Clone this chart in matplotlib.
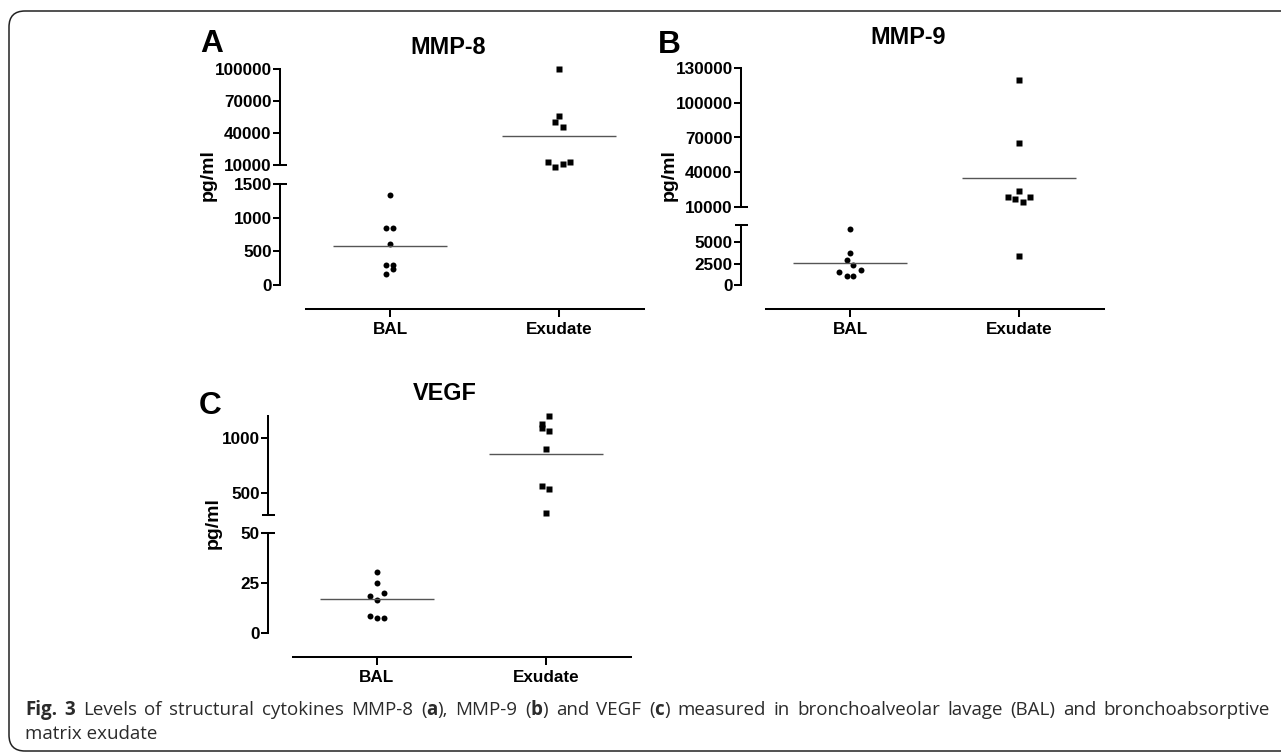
import numpy as np
import matplotlib
matplotlib.use('Agg')
import matplotlib.pyplot as plt
from matplotlib.patches import FancyBboxPatch
from matplotlib.lines import Line2D

W, H = 1281, 753
plt.rcParams['font.family'] = ['Liberation Sans', 'DejaVu Sans']
plt.rcParams['font.weight'] = 'bold'

categories = ['BAL', 'Exudate']

# values (pg/ml)
mmp8_bal = [1331, 849, 849, 616, 298, 298, 233, 159]
mmp8_exudate = [100000, 56250, 50300, 45300, 12800, 8400, 10900, 13100]
mmp9_bal = [6520, 3710, 2890, 2300, 1560, 1800, 1020, 1090]
mmp9_exudate = [120000, 65000, 24000, 18900, 16600, 14600, 18400, 3440]
vegf_bal = [30.5, 25, 20.2, 18.7, 16.7, 8.7, 7.3, 7.5]
vegf_exudate = [1203, 1127, 1091, 1067, 903, 561, 537, 315]

mmp8_ticks_hi = [10000, 40000, 70000, 100000]
mmp8_ticks_lo = [0, 500, 1000, 1500]
mmp9_ticks_hi = [10000, 40000, 70000, 100000, 130000]
mmp9_ticks_lo = [0, 2500, 5000]
vegf_ticks_hi = [500, 1000]
vegf_ticks_lo = [0, 25, 50]

# sideways spread of the points inside a column, px
mmp8_bal_dx = [0, -4, 3, 0, -4, 3, 3, -4]
mmp8_exu_dx = [0, 0, -4, 4, -11, -4, 4, 11]
mmp9_bal_dx = [0, 0, -3, 3, -11, 11, -3, 3]
mmp9_exu_dx = [0, 0, 0, -11, -4, 4, 11, 0]
vegf_bal_dx = [0, 0, 7, -7, 0, -7, 0, 7]
vegf_exu_dx = [3, -4, -4, 3, 0, -4, 3, 0]

CAT_PX = 169  # px between the two columns
LW = 1.45
TICK_FS = 12.3


def px_axes(fig, left, top, right, bottom):
    return fig.add_axes([left / W, 1 - bottom / H, (right - left) / W, (bottom - top) / H])


def hline_px(fig, x0, x1, y, lw=LW):
    fig.add_artist(Line2D([x0 / W, x1 / W], [1 - y / H, 1 - y / H],
                          transform=fig.transFigure, color='black', lw=lw))


def style_y(ax, ticks, lo, hi):
    ax.spines[['top', 'right']].set_visible(False)
    ax.spines['left'].set_linewidth(LW)
    ax.spines['left'].set_bounds(lo, hi)
    ax.set_yticks(ticks)
    ax.set_yticklabels([str(t) for t in ticks])
    ax.tick_params(axis='y', length=5, width=LW, pad=1, labelsize=TICK_FS)
    ax.patch.set_alpha(0)


def panel(fig, bal, exu, bal_dx, exu_dx, spine_x, cat1_px, right_px,
          up_top, up_bot, up_lo, up_hi, up_ticks,
          lo_top, zero_px, lo_hi, lo_ticks, axis_px):
    xlim = (1 - (cat1_px - spine_x) / CAT_PX, 1 + (right_px - cat1_px) / CAT_PX)

    up = px_axes(fig, spine_x, up_top, right_px, up_bot)
    up.set_xlim(*xlim)
    up.set_ylim(up_lo, up_hi)
    style_y(up, up_ticks, up_lo, up_hi)
    up.spines['bottom'].set_visible(False)
    up.set_xticks([])

    low = px_axes(fig, spine_x, lo_top, right_px, axis_px)
    low.set_xlim(*xlim)
    low.set_ylim(-(axis_px - zero_px) * lo_hi / (zero_px - lo_top), lo_hi)
    style_y(low, lo_ticks, 0, lo_hi)
    low.spines['bottom'].set_linewidth(LW)
    low.spines['bottom'].set_bounds(0.5, 2.5)
    low.set_xticks([1, 2])
    low.set_xticklabels(categories, fontsize=TICK_FS)
    low.tick_params(axis='x', length=6, width=LW, pad=3)

    for i, (vals, dx, mk) in enumerate([(bal, bal_dx, 'o'), (exu, exu_dx, 's')]):
        c = i + 1
        vals = np.array(vals, dtype=float)
        xs = c + np.array(dx) / CAT_PX
        for ax, sel in [(up, vals > lo_hi), (low, vals <= lo_hi)]:
            ax.plot(xs[sel], vals[sel], ls='none', marker=mk, ms=4.3,
                    color='black', mec='none', clip_on=False)
        m = vals.mean()
        target = up if m > lo_hi else low
        target.hlines(m, c - 0.335, c + 0.335, color='#555555', lw=1.0)

    # axis break marks
    hline_px(fig, spine_x - 5, spine_x + 6, up_bot)
    hline_px(fig, spine_x - 5, spine_x + 6, lo_top)


fig = plt.figure(figsize=(W / 100, H / 100), dpi=100)

panel(fig, mmp8_bal, mmp8_exudate, mmp8_bal_dx, mmp8_exu_dx,
      280, 390, 644, 69, 165, 10000, 100000, mmp8_ticks_hi,
      184, 285, 1500, mmp8_ticks_lo, 309)
panel(fig, mmp9_bal, mmp9_exudate, mmp9_bal_dx, mmp9_exu_dx,
      741, 850, 1104, 68, 207, 10000, 130000, mmp9_ticks_hi,
      225, 285, 7000, mmp9_ticks_lo, 309)
panel(fig, vegf_bal, vegf_exudate, vegf_bal_dx, vegf_exu_dx,
      268, 377, 627, 416, 515, 300, 1200, vegf_ticks_hi,
      533, 633, 50, vegf_ticks_lo, 657)

# titles, panel letters, y labels
for txt, x, y in [('MMP-8', 448, 48), ('MMP-9', 908, 37), ('VEGF', 445, 393)]:
    fig.text(x / W, 1 - y / H, txt, ha='center', va='center', fontsize=16.8, weight='bold')
for txt, x, y in [('A', 212, 44), ('B', 669, 45), ('C', 210, 406)]:
    fig.text(x / W, 1 - y / H, txt, ha='center', va='center', fontsize=22.8, weight='bold')
for x, y in [(208, 175), (669, 175), (213, 523)]:
    fig.text(x / W, 1 - y / H, 'pg/ml', ha='center', va='center', rotation=90,
             fontsize=14, weight='bold')

# frame around the figure, open to the right
fig.add_artist(FancyBboxPatch((0.09, 0.02), 13.5, 7.40,
                              boxstyle='round,pad=0,rounding_size=0.16',
                              transform=fig.dpi_scale_trans, fill=False,
                              ec='#222222', lw=1.1))

# caption, first line justified
cap_font = ['Open Sans', 'DejaVu Sans']
line1 = [('Fig.', 'bold'), ('3', 'bold'), ('Levels', 'normal'), ('of', 'normal'),
         ('structural', 'normal'), ('cytokines', 'normal'), ('MMP-8', 'normal'),
         ('(a),', 'mix'), ('MMP-9', 'normal'), ('(b)', 'mix'), ('and', 'normal'),
         ('VEGF', 'normal'), ('(c)', 'mix'), ('measured', 'normal'), ('in', 'normal'),
         ('bronchoalveolar', 'normal'), ('lavage', 'normal'), ('(BAL)', 'normal'),
         ('and', 'normal'), ('bronchoabsorptive', 'normal')]
renderer = fig.canvas.get_renderer()
x0, x1, yb = 25, 1270, 715
cap_size = 13.5
pieces = []
for word, w in line1:
    if w == 'mix':
        parts = [(word[0], 'normal'), (word[1], 'bold'), (word[2:], 'normal')]
    else:
        parts = [(word, w)]
    objs = []
    for p, pw in parts:
        t = fig.text(0, 0, p, fontsize=cap_size, weight=pw, family=cap_font,
                     color='#2b2b2b', va='baseline')
        objs.append(t)
    pieces.append(objs)
widths = [[o.get_window_extent(renderer).width for o in objs] for objs in pieces]
total = sum(sum(w) for w in widths)
gap = (x1 - x0 - total) / (len(pieces) - 1)
x = x0
for objs, ws in zip(pieces, widths):
    for o, w in zip(objs, ws):
        o.set_position((x / W, 1 - yb / H))
        x += w
    x += gap
fig.text(x0 / W, 1 - 739 / H, 'matrix exudate', fontsize=cap_size, weight='normal',
         family=cap_font, color='#2b2b2b', va='baseline')

fig.savefig('out.png', dpi=100)
